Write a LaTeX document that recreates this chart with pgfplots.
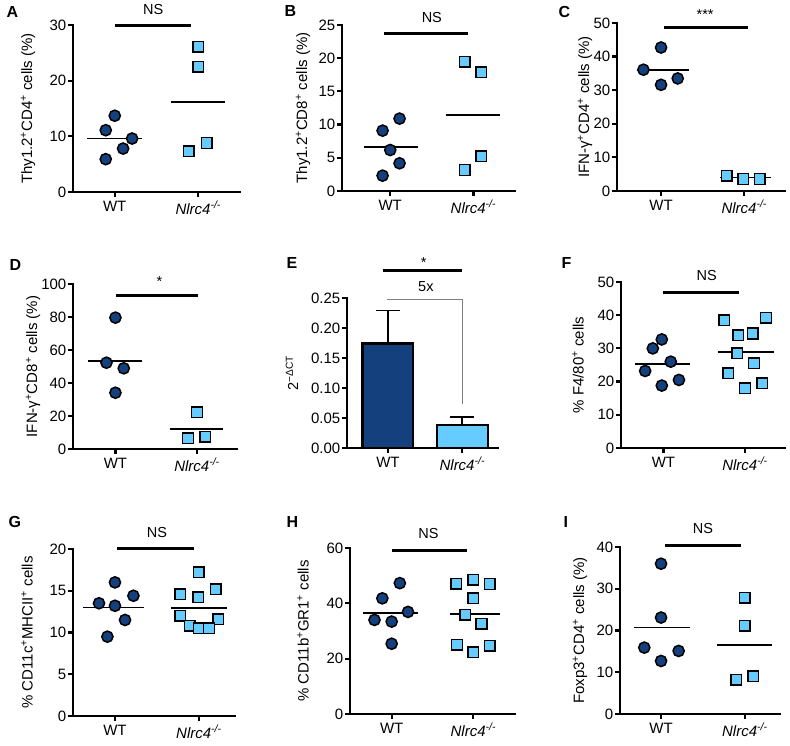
\documentclass[border=0pt]{standalone}
\usepackage{fontspec}
\setmainfont{Liberation Sans}
\usepackage{pgfplots}
\pgfplotsset{compat=1.18}
\definecolor{dkblue}{RGB}{20,64,125}
\definecolor{ltblue}{RGB}{102,204,255}
\tikzset{note/.style={anchor=base, font=\fontsize{14.5}{16}\selectfont}}
\pgfplotsset{
 panel/.style={
  scale only axis, clip=false,
  axis x line=bottom, axis y line=left,
  axis line style={-, line width=2.6pt, line cap=rect},
  xtick={0,1}, xticklabels={WT,\textit{Nlrc4}\textsuperscript{\textit{-/-}}},
  ymin=0, enlargelimits=false,
  tick align=outside, major tick length=5pt,
  tick style={black, line width=2.2pt},
  tick label style={font=\fontsize{15}{17}\selectfont},
  /pgf/number format/assume math mode=true,
  label style={font=\fontsize{15}{17}\selectfont},
  anchor=south west,
  yticklabel style={inner sep=1.5pt},
  xticklabel style={inner sep=2pt, yshift=-2pt},
 },
 wt/.style={only marks, mark=*, mark size=5.6pt, mark options={fill=dkblue, draw=black, line width=1.5pt}},
 ko/.style={only marks, mark=square*, mark size=5.3pt, mark options={fill=ltblue, draw=black, line width=1.5pt}},
 mean/.style={black, line width=1.8pt, mark=none},
 sig/.style={black, line width=3pt, mark=none},
}
\begin{document}
\begin{tikzpicture}
\path[use as bounding box] (0,0) rectangle (790pt,746pt);
% panel letters
\begin{scope}[every node/.style={anchor=west, font=\fontsize{16}{18}\selectfont\bfseries}]
\node at (3pt,734pt) {A};
\node at (281pt,735pt) {B};
\node at (555pt,734pt) {C};
\node at (6pt,481pt) {D};
\node at (283pt,483pt) {E};
\node at (558pt,483pt) {F};
\node at (5pt,224pt) {G};
\node at (283pt,224pt) {H};
\node at (560pt,224pt) {I};
\end{scope}

% A
\begin{axis}[panel, at={(73pt,554pt)}, width=167pt, height=167pt, xmin=-0.5, xmax=1.5, ymax=30, ytick={0,10,20,30},
 ylabel={Thy1.2\textsuperscript{+}CD4\textsuperscript{+} cells (\%)}, ylabel style={at={(axis description cs:-0.269,0.5)}, anchor=center}]
\addplot[wt] coordinates {(0,13.7) (-0.108,11.1) (0.208,9.6) (0.1,7.8) (-0.108,5.9)};
\addplot[ko] coordinates {(1.0,26.1) (1.0,22.5) (0.888,7.3) (1.1,8.8)};
\addplot[mean] coordinates {(-0.33,9.6) (0.33,9.6)};
\addplot[mean] coordinates {(0.668,16.2) (1.32,16.2)};
\addplot[sig] coordinates {(0,29.9) (0.91,29.9)};
\node[note, yshift=11pt] at (axis cs:0.46,29.9) {NS};
\end{axis}

% B
\begin{axis}[panel, at={(342pt,555pt)}, width=173pt, height=166pt, xmin=-0.58, xmax=1.5, ymax=25, ytick={0,5,10,15,20,25},
 ylabel={Thy1.2\textsuperscript{+}CD8\textsuperscript{+} cells (\%)}, ylabel style={at={(axis description cs:-0.225,0.5)}, anchor=center}]
\addplot[wt] coordinates {(0.112,10.9) (-0.092,9.09) (0,6.17) (0.112,4.17) (-0.092,2.31)};
\addplot[ko] coordinates {(0.896,19.48) (1.092,17.87) (1.092,5.22) (0.896,3.16)};
\addplot[mean] coordinates {(-0.32,6.58) (0.33,6.58)};
\addplot[mean] coordinates {(0.668,11.4) (1.32,11.4)};
\addplot[sig] coordinates {(-0.08,23.7) (0.94,23.7)};
\node[note, yshift=11.5pt] at (axis cs:0.5,23.7) {NS};
\end{axis}

% C
\begin{axis}[panel, at={(617pt,555pt)}, width=168pt, height=168pt, xmin=-0.53, xmax=1.49, ymax=50, ytick={0,10,20,30,40,50},
 ylabel={IFN-γ\textsuperscript{+}CD4\textsuperscript{+} cells (\%)}, ylabel style={at={(axis description cs:-0.19,0.5)}, anchor=center}]
\addplot[wt] coordinates {(0,42.7) (-0.212,36.1) (0.2,33.5) (0,31.6)};
\addplot[ko] coordinates {(0.788,4.57) (0.988,3.58) (1.188,3.58)};
\addplot[mean] coordinates {(-0.29,36.1) (0.33,36.1)};
\addplot[mean] coordinates {(0.708,4.0) (1.32,4.0)};
\addplot[sig] coordinates {(0.04,48.7) (1.04,48.7)};
\node[note, yshift=8pt] at (axis cs:0.53,48.7) {***};
\end{axis}

% D
\begin{axis}[panel, at={(73pt,297pt)}, width=164pt, height=165pt, xmin=-0.52, xmax=1.49, ymax=100, ytick={0,20,40,60,80,100},
 ylabel={IFN-γ\textsuperscript{+}CD8\textsuperscript{+} cells (\%)}, ylabel style={at={(axis description cs:-0.244,0.5)}, anchor=center}]
\addplot[wt] coordinates {(0,79.6) (-0.11,52.3) (0.102,48.9) (0,34.1)};
\addplot[ko] coordinates {(1.0,22.2) (0.89,6.5) (1.1,7.5)};
\addplot[mean] coordinates {(-0.34,53.5) (0.33,53.5)};
\addplot[mean] coordinates {(0.665,11.9) (1.32,11.9)};
\addplot[sig] coordinates {(0.01,93.3) (1.01,93.3)};
\node[note, yshift=9pt] at (axis cs:0.54,93.3) {*};
\end{axis}

% E
\begin{axis}[panel, at={(347pt,298pt)}, width=151pt, height=150pt, xmin=-0.55, xmax=1.48, ymax=0.25,
 ytick={0,0.05,0.10,0.15,0.20,0.25}, yticklabels={0.00,0.05,0.10,0.15,0.20,0.25},
 ylabel={2\textsuperscript{−ΔCT}}, ylabel style={at={(axis description cs:-0.364,0.5)}, anchor=center, font=\fontsize{14.5}{16}\selectfont}]
\addplot[ybar, bar width=0.685, fill=dkblue, draw=black, line width=2.2pt] coordinates {(0,0.174)};
\addplot[ybar, bar width=0.685, fill=ltblue, draw=black, line width=2.2pt] coordinates {(1,0.038)};
\addplot[black, line width=1.8pt] coordinates {(0,0.174) (0,0.229)};
\addplot[black, line width=1.8pt] coordinates {(-0.16,0.229) (0.16,0.229)};
\addplot[black, line width=1.8pt] coordinates {(1,0.038) (1,0.051)};
\addplot[black, line width=1.8pt] coordinates {(0.84,0.051) (1.16,0.051)};
\addplot[gray, line width=1pt] coordinates {(-0.01,0.248) (1,0.248) (1,0.073)};
\addplot[sig] coordinates {(-0.07,0.296) (1.0,0.296)};
\node[note, yshift=3pt] at (axis cs:0.48,0.296) {*};
\node[note, yshift=8pt] at (axis cs:0.51,0.248) {5x};
\end{axis}

% F
\begin{axis}[panel, at={(621pt,298pt)}, width=164pt, height=166pt, xmin=-0.52, xmax=1.49, ymax=50, ytick={0,10,20,30,40,50},
 ylabel={\% F4/80\textsuperscript{+} cells}, ylabel style={at={(axis description cs:-0.262,0.5)}, anchor=center}]
\addplot[wt] coordinates {(-0.02,32.7) (-0.13,30.0) (0.09,26.0) (-0.224,23.2) (0.19,20.5) (-0.02,18.8)};
\addplot[ko] coordinates {(0.743,38.5) (1.257,39.2) (0.918,34.0) (1.094,34.5) (0.906,28.5) (1.11,25.5) (0.796,22.5) (1.21,19.5) (1.0,18.0)};
\addplot[mean] coordinates {(-0.35,25.2) (0.32,25.2)};
\addplot[mean] coordinates {(0.67,29.0) (1.35,29.0)};
\addplot[sig] coordinates {(-0.01,46.8) (0.93,46.8)};
\node[note, yshift=12pt] at (axis cs:0.53,46.8) {NS};
\end{axis}

% G
\begin{axis}[panel, at={(73pt,30pt)}, width=162pt, height=167pt, xmin=-0.5, xmax=1.43, ymax=20, ytick={0,5,10,15,20},
 ylabel={\% CD11c\textsuperscript{+}MHCII\textsuperscript{+} cells}, ylabel style={at={(axis description cs:-0.284,0.5)}, anchor=center}]
\addplot[wt] coordinates {(0,16.0) (0.22,14.4) (-0.19,13.5) (0,13.2) (0.12,11.5) (-0.09,9.5)};
\addplot[ko] coordinates {(1.0,17.2) (1.2,15.2) (0.78,14.6) (0.99,14.2) (0.78,12.0) (1.23,11.6) (0.89,10.8) (1.0,10.5) (1.12,10.5)};
\addplot[mean] coordinates {(-0.38,13.0) (0.34,13.0)};
\addplot[mean] coordinates {(0.67,12.9) (1.33,12.9)};
\addplot[sig] coordinates {(0.03,20.0) (0.94,20.0)};
\node[note, yshift=11pt] at (axis cs:0.5,20.0) {NS};
\end{axis}

% H
\begin{axis}[panel, at={(350pt,32pt)}, width=165pt, height=166pt, xmin=-0.51, xmax=1.51, ymax=60, ytick={0,20,40,60},
 ylabel={\% CD11b\textsuperscript{+}GR1\textsuperscript{+} cells}, ylabel style={at={(axis description cs:-0.285,0.5)}, anchor=center}]
\addplot[wt] coordinates {(0.1,47.3) (-0.114,41.8) (0.2,36.9) (-0.21,34.0) (0,33.4) (0,25.4)};
\addplot[ko] coordinates {(1.0,48.5) (0.79,47.1) (1.2,47.0) (1.0,41.9) (0.9,35.9) (1.1,32.6) (0.8,25.0) (1.2,24.6) (1.0,22.3)};
\addplot[mean] coordinates {(-0.35,36.5) (0.32,36.5)};
\addplot[mean] coordinates {(0.71,36.0) (1.33,36.0)};
\addplot[sig] coordinates {(0,59.2) (0.92,59.2)};
\node[note, yshift=11.5pt] at (axis cs:0.45,59.2) {NS};
\end{axis}

% I
\begin{axis}[panel, at={(620pt,32pt)}, width=160pt, height=167pt, xmin=-0.49, xmax=1.42, ymax=40, ytick={0,10,20,30,40},
 ylabel={Foxp3\textsuperscript{+}CD4\textsuperscript{+} cells (\%)}, ylabel style={at={(axis description cs:-0.25,0.5)}, anchor=center}]
\addplot[wt] coordinates {(0,36.0) (0,23.1) (-0.2,15.9) (0.21,15.1) (0,12.7)};
\addplot[ko] coordinates {(1.0,27.8) (1.0,21.1) (0.9,8.2) (1.1,9.0)};
\addplot[mean] coordinates {(-0.32,20.7) (0.34,20.7)};
\addplot[mean] coordinates {(0.67,16.6) (1.33,16.6)};
\addplot[sig] coordinates {(0.05,40.4) (0.95,40.4)};
\node[note, yshift=11.5pt] at (axis cs:0.5,40.4) {NS};
\end{axis}
\end{tikzpicture}
\end{document}
